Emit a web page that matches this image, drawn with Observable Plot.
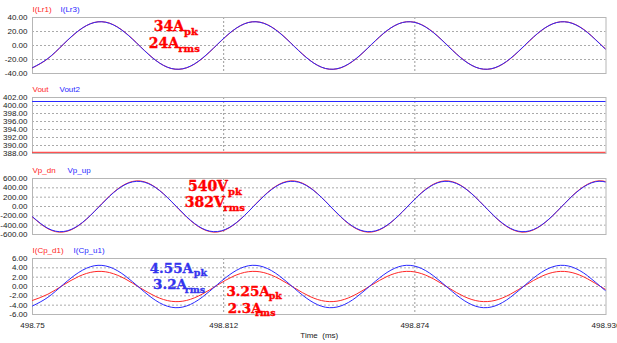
<!DOCTYPE html>
<html><head><meta charset="utf-8">
<script src="https://cdn.jsdelivr.net/npm/d3@7"></script>
<script src="https://cdn.jsdelivr.net/npm/@observablehq/plot@0.6"></script>
<style>
body{margin:0;background:#fff;}
#chart{position:relative;width:617px;height:343px;overflow:hidden;background:#fff;}
#chart svg{position:absolute;left:0;}
svg text{white-space:pre;}
</style></head><body><div id="chart"></div>
<script>
// ---- data ----
const timeTicks = [498.75, 498.812, 498.874, 498.936];
const timeTickLabels = ["498.75", "498.812", "498.874", "498.936"];
const times = [498.750, 498.755, 498.760, 498.765, 498.770, 498.775, 498.780, 498.785, 498.790, 498.795,
  498.800, 498.805, 498.810, 498.815, 498.820, 498.825, 498.830, 498.835, 498.840, 498.845,
  498.850, 498.855, 498.860, 498.865, 498.870, 498.875, 498.880, 498.885, 498.890, 498.895,
  498.900, 498.905, 498.910, 498.915, 498.920, 498.925, 498.930, 498.935, 498.940];

// Panel 1: resonant inductor currents (A)
const iLr1 = [-31.9, -18.8, 1.5, 21.2, 32.9, 31.9, 18.8, -1.5, -21.2, -32.9,
  -31.9, -18.8, 1.5, 21.2, 32.9, 31.9, 18.8, -1.5, -21.2, -32.9,
  -31.9, -18.8, 1.5, 21.2, 32.9, 31.9, 18.8, -1.5, -21.2, -32.9,
  -31.9, -18.8, 1.5, 21.2, 32.9, 31.9, 18.8, -1.5, -21.2];
const iLr3 = [-31.7, -18.5, 1.8, 21.4, 32.8, 31.7, 18.5, -1.8, -21.4, -32.8,
  -31.7, -18.5, 1.8, 21.4, 32.8, 31.7, 18.5, -1.8, -21.4, -32.8,
  -31.7, -18.5, 1.8, 21.4, 32.8, 31.7, 18.5, -1.8, -21.4, -32.8,
  -31.7, -18.5, 1.8, 21.4, 32.8, 31.7, 18.5, -1.8, -21.4];

// Panel 2: output voltages (V)
const voutTimes = [498.75, 498.936];
const vout = [388.3, 388.3];
const vout2 = [401.0, 401.0];

// Panel 3: primary voltages (V)
const vpDn = [-226, -476, -547, -406, -112, 226, 476, 547, 406, 112,
  -226, -476, -547, -406, -112, 226, 476, 547, 406, 112,
  -226, -476, -547, -406, -112, 226, 476, 547, 406, 112,
  -226, -476, -547, -406, -112, 226, 476, 547, 406];
const vpUp = [-220, -468, -537, -401, -112, 220, 468, 537, 401, 112,
  -220, -468, -537, -401, -112, 220, 468, 537, 401, 112,
  -220, -468, -537, -401, -112, 220, 468, 537, 401, 112,
  -220, -468, -537, -401, -112, 220, 468, 537, 401];

// Panel 4: capacitor currents (A)
const iCpD1 = [-2.98, -1.65, 0.31, 2.15, 3.17, 2.98, 1.65, -0.31, -2.15, -3.17,
  -2.98, -1.65, 0.31, 2.15, 3.17, 2.98, 1.65, -0.31, -2.15, -3.17,
  -2.98, -1.65, 0.31, 2.15, 3.17, 2.98, 1.65, -0.31, -2.15, -3.17,
  -2.98, -1.65, 0.31, 2.15, 3.17, 2.98, 1.65, -0.31, -2.15];
const iCpU1 = [-4.17, -2.31, 0.44, 3.01, 4.44, 4.17, 2.31, -0.44, -3.01, -4.44,
  -4.17, -2.31, 0.44, 3.01, 4.44, 4.17, 2.31, -0.44, -3.01, -4.44,
  -4.17, -2.31, 0.44, 3.01, 4.44, 4.17, 2.31, -0.44, -3.01, -4.44,
  -4.17, -2.31, 0.44, 3.01, 4.44, 4.17, 2.31, -0.44, -3.01];

// y ticks
const yTicks1 = [-40, -20, 0, 20, 40];
const yTicks2 = [388, 390, 392, 394, 396, 398, 400, 402];
const yTicks3 = [-600, -400, -200, 0, 200, 400, 600];
const yTicks4 = [-6, -4, -2, 0, 2, 4, 6];

// annotations (text, time, value)
const notes1 = [
  {text: "34A", t: 498.7893, v: 21.4, sub: false, c: "r"},
  {text: "pk", t: 498.7991, v: 15.7, sub: true, c: "r"},
  {text: "24A", t: 498.7877, v: -3.3, sub: false, c: "r"},
  {text: "rms", t: 498.7973, v: -9.6, sub: true, c: "r"}
];
const notes3 = [
  {text: "540V", t: 498.8004, v: 339, sub: false, c: "r"},
  {text: "pk", t: 498.8134, v: 257, sub: true, c: "r"},
  {text: "382V", t: 498.7994, v: -17, sub: false, c: "r"},
  {text: "rms", t: 498.8119, v: -90, sub: true, c: "r"}
];
const notes4 = [
  {text: "4.55A", t: 498.7880, v: 2.83, sub: false, c: "b"},
  {text: "pk", t: 498.8023, v: 2.25, sub: true, c: "b"},
  {text: "3.2A", t: 498.7891, v: -0.6, sub: false, c: "b"},
  {text: "rms", t: 498.7994, v: -1.33, sub: true, c: "b"},
  {text: "3.25A", t: 498.8129, v: -2.04, sub: false, c: "r"},
  {text: "pk", t: 498.8266, v: -2.61, sub: true, c: "r"},
  {text: "2.3A", t: 498.8133, v: -5.61, sub: false, c: "r"},
  {text: "rms", t: 498.8222, v: -6.26, sub: true, c: "r"}
];

// ---- drawing ----
const RED = "#ff2626", BLUE = "#2828ff";
const NOTE_RED = "#ff0000", NOTE_BLUE = "#3434ee";
const SANS = "'Liberation Sans', Arial, sans-serif";
const SERIF = "'DejaVu Serif', serif";
const chart = document.getElementById("chart");

function toRows(ts, vs) { return ts.map((t, i) => ({t, v: vs[i]})); }

function panel({top, yDomain, yTicks, series, legend, notes = [], mainSize = 14, subSize = 10, xAxis = false}) {
  const marginBottom = xAxis ? 29 : 4;
  const noteColor = d => d.c === "r" ? NOTE_RED : NOTE_BLUE;
  const marks = [
    Plot.ruleY(yTicks.slice(1, -1), {stroke: "#aaaaaa", strokeDasharray: "2,2"}),
    Plot.ruleX(timeTicks.slice(1, -1), {stroke: "#9c9c9c", strokeDasharray: "2,2"}),
    Plot.frame({stroke: "#b6b6b6"}),
    ...series.map(s => Plot.line(toRows(s.t, s.v), {x: "t", y: "v", stroke: s.color, strokeWidth: 1, curve: "natural", clip: true})),
    ...legend.map(l => Plot.text([l.name], {frameAnchor: "top-left", dx: l.dx, dy: -5.5, lineAnchor: "bottom", textAnchor: "start", text: d => d, fill: l.color, fontSize: 8, fontFamily: SANS})),
    Plot.text(notes, {x: "t", y: "v", text: "text", textAnchor: "start", lineAnchor: "bottom",
      fill: noteColor, stroke: noteColor, strokeWidth: 0.35, fontSize: d => d.sub ? subSize : mainSize,
      fontFamily: SERIF, fontWeight: "bold"})
  ];
  if (xAxis) {
    marks.push(Plot.text(["Time  (ms)"], {frameAnchor: "bottom", dy: 23.5, lineAnchor: "bottom", text: d => d, fontSize: 8, fontFamily: SANS, fill: "#222"}));
  }
  const svg = Plot.plot({
    width: 617,
    height: 17 + 56 + marginBottom,
    marginLeft: 32, marginRight: 11.5, marginTop: 17, marginBottom,
    x: xAxis
      ? {domain: [498.75, 498.936], ticks: timeTicks, tickFormat: (d, i) => timeTickLabels[i], tickSize: 0, tickPadding: 8, label: null}
      : {domain: [498.75, 498.936], axis: null},
    y: {domain: yDomain, ticks: yTicks, tickFormat: d => d.toFixed(2), tickSize: 0, tickPadding: 5, label: null},
    color: {type: "identity"},
    style: {fontSize: "8px", fontFamily: SANS, color: "#222", background: "transparent", overflow: "visible"},
    marks
  });
  svg.style.top = top + "px";
  chart.appendChild(svg);
}

panel({top: 0, yDomain: [-40, 40], yTicks: yTicks1,
  series: [{t: times, v: iLr1, color: RED}, {t: times, v: iLr3, color: BLUE}],
  legend: [{name: "I(Lr1)", dx: 0, color: RED}, {name: "I(Lr3)", dx: 28, color: BLUE}],
  notes: notes1});
panel({top: 80, yDomain: [388, 402], yTicks: yTicks2,
  series: [{t: voutTimes, v: vout, color: RED}, {t: voutTimes, v: vout2, color: BLUE}],
  legend: [{name: "Vout", dx: 0, color: RED}, {name: "Vout2", dx: 27, color: BLUE}]});
panel({top: 161, yDomain: [-600, 600], yTicks: yTicks3,
  series: [{t: times, v: vpDn, color: RED}, {t: times, v: vpUp, color: BLUE}],
  legend: [{name: "Vp_dn", dx: 0, color: RED}, {name: "Vp_up", dx: 35, color: BLUE}],
  notes: notes3});
panel({top: 241, yDomain: [-6, 6], yTicks: yTicks4,
  series: [{t: times, v: iCpD1, color: RED}, {t: times, v: iCpU1, color: BLUE}],
  legend: [{name: "I(Cp_d1)", dx: 0, color: RED}, {name: "I(Cp_u1)", dx: 41, color: BLUE}],
  notes: notes4, mainSize: 13.5, subSize: 9.5, xAxis: true});
</script></body></html>
